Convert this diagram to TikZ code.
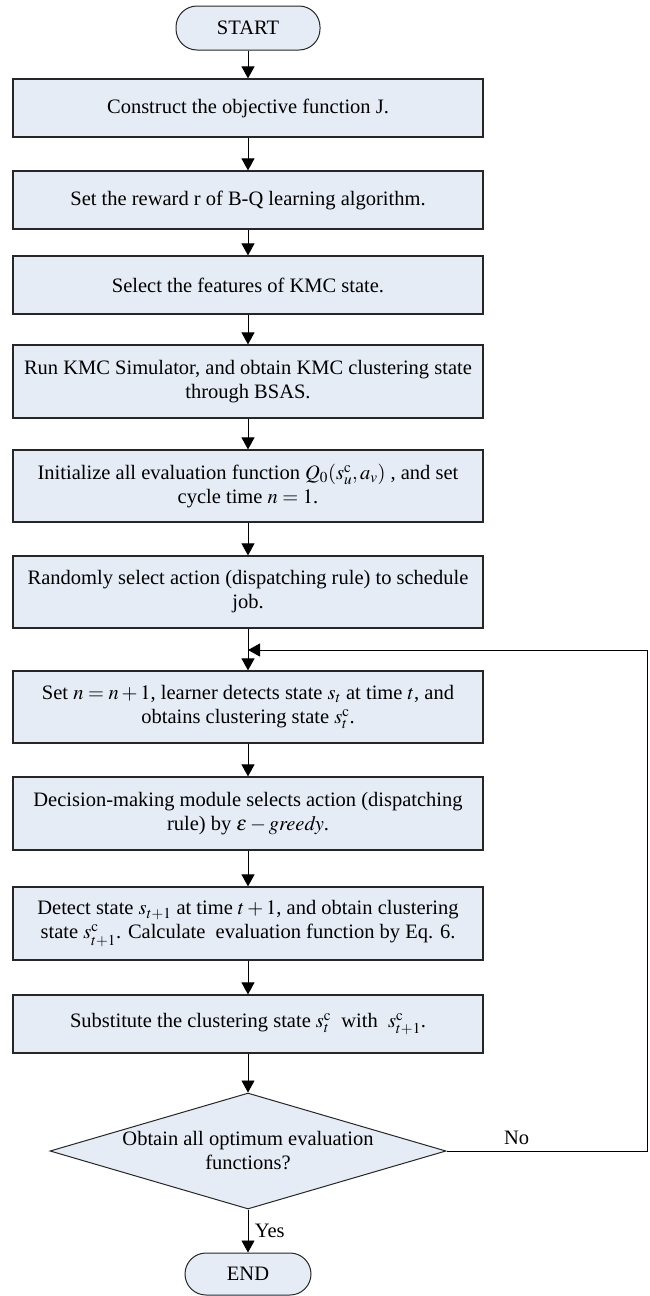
\documentclass[tikz,border=0pt]{standalone}
\usepackage{mathptmx}
\usepackage{fontspec}
\setmainfont{Liberation Serif}
\usetikzlibrary{shapes.geometric,arrows.meta}

\definecolor{boxfill}{RGB}{230,236,246}

\tikzset{
  stepbox/.style={draw=black!85,line width=1.2pt,fill=boxfill,
    minimum width=470pt,align=center,inner sep=0pt},
  term/.style={draw=black!85,line width=1pt,fill=boxfill,
    rounded corners=21pt,minimum height=44pt,align=center},
  flow/.style={-{Triangle[width=13pt,length=12pt]},line width=0.9pt}
}

\begin{document}
\begin{tikzpicture}[x=1pt,y=-1pt,font=\fontsize{20.5}{24}\selectfont]

\useasboundingbox (0,0) rectangle (649,1296);

% Start and the set up steps
\node[term,minimum width=144pt] (start) at (248,28) {START};
\node[stepbox,minimum height=58pt] (obj) at (248,108) {Construct the objective function J.};
\node[stepbox,minimum height=58pt] (reward) at (248,200) {Set the reward r of B-Q learning algorithm.};
\node[stepbox,minimum height=58pt] (feat) at (248,285) {Select the features of KMC state.};
\node[stepbox,minimum height=73pt] (kmc) at (248,381.5)
  {Run KMC Simulator, and obtain KMC clustering state\\ through BSAS.};
\node[stepbox,minimum height=72pt] (init) at (248,486)
  {Initialize all evaluation function $Q_0(s^{\mathrm{c}}_u,a_v)$ , and set\\ cycle time $n=1$.};
\node[stepbox,minimum height=72pt] (rand) at (248,592)
  {Randomly select action (dispatching rule) to schedule\\ job.};

% The learning loop
\node[stepbox,minimum height=72pt] (setn) at (248,707)
  {Set $n=n+1$, learner detects state $s_t$ at time $t$, and\\ obtains clustering state $s^{\mathrm{c}}_t$.};
\node[stepbox,minimum height=73pt] (act) at (248,813.5)
  {Decision-making module selects action (dispatching\\ rule) by $\varepsilon-\mathit{greedy}$.};
\node[stepbox,minimum height=73pt] (detect) at (248,923.5)
  {Detect state $s_{t+1}$ at time $t+1$, and obtain clustering\\ state $s^{\mathrm{c}}_{t+1}$.  Calculate\ \ evaluation function by Eq. 6.};
\node[stepbox,minimum height=58pt] (subst) at (248,1024)
  {Substitute the clustering state $s^{\mathrm{c}}_t$\ \ with\ \ $s^{\mathrm{c}}_{t+1}$.};
\node[diamond,draw=black!85,line width=1pt,fill=boxfill,minimum width=396pt,
  minimum height=116pt,inner sep=0pt,
  label={[align=center]center:Obtain all optimum evaluation\\ functions?}] (check) at (248,1151) {};
\node[term,minimum width=126pt,minimum height=42pt] (end) at (248,1274) {END};

% Where the loop comes back in
\coordinate (back) at (248,650);
\coordinate (rim) at (647,1151);

\draw[flow] (start) -- (obj);
\draw[flow] (obj) -- (reward);
\draw[flow] (reward) -- (feat);
\draw[flow] (feat) -- (kmc);
\draw[flow] (kmc) -- (init);
\draw[flow] (init) -- (rand);
\draw[flow] (rand) -- (setn);
\draw[flow] (setn) -- (act);
\draw[flow] (act) -- (detect);
\draw[flow] (detect) -- (subst);
\draw[flow] (subst) -- (check);
\draw[flow] (check) -- node[right,xshift=3pt] {Yes} (end);
\draw[flow] (check) -- node[pos=.35,above,yshift=3pt] {No} (rim) |- (back);

\end{tikzpicture}
\end{document}
